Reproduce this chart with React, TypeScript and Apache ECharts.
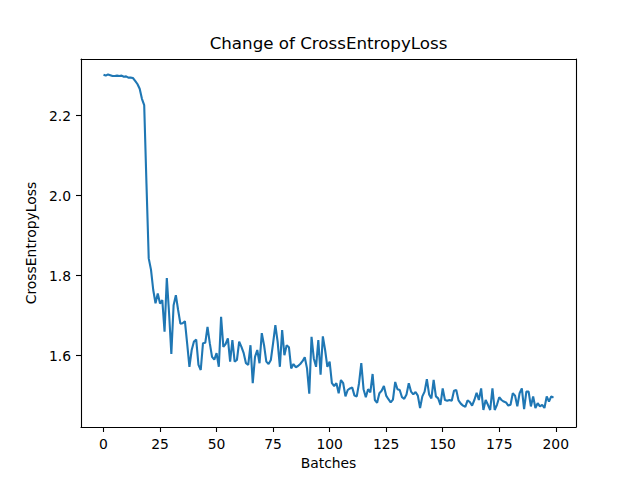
import React, { useEffect, useRef } from "react";
import * as echarts from "echarts";

const loss: number[] = [
  2.302, 2.300, 2.303, 2.301, 2.299, 2.299, 2.300, 2.299, 2.300, 2.297,
  2.298, 2.295, 2.295, 2.294, 2.287, 2.279, 2.267, 2.242, 2.226, 2.030,
  1.843, 1.815, 1.764, 1.731, 1.755, 1.730, 1.739, 1.660, 1.794, 1.706,
  1.604, 1.726, 1.751, 1.714, 1.680, 1.681, 1.686, 1.630, 1.572, 1.614,
  1.635, 1.640, 1.577, 1.564, 1.631, 1.632, 1.672, 1.631, 1.597, 1.590,
  1.606, 1.572, 1.697, 1.622, 1.629, 1.643, 1.585, 1.639, 1.585, 1.589,
  1.635, 1.622, 1.606, 1.581, 1.577, 1.626, 1.531, 1.597, 1.614, 1.581,
  1.656, 1.626, 1.585, 1.579, 1.589, 1.631, 1.676, 1.635, 1.572, 1.664,
  1.601, 1.626, 1.621, 1.568, 1.579, 1.571, 1.574, 1.579, 1.586, 1.596,
  1.568, 1.505, 1.647, 1.593, 1.572, 1.639, 1.552, 1.648, 1.614, 1.572,
  1.585, 1.531, 1.524, 1.531, 1.506, 1.539, 1.531, 1.498, 1.514, 1.518,
  1.520, 1.500, 1.498, 1.531, 1.581, 1.516, 1.496, 1.516, 1.508, 1.554,
  1.489, 1.482, 1.506, 1.512, 1.524, 1.500, 1.491, 1.483, 1.490, 1.534,
  1.516, 1.514, 1.496, 1.492, 1.503, 1.531, 1.510, 1.503, 1.509, 1.500,
  1.469, 1.498, 1.510, 1.541, 1.503, 1.493, 1.539, 1.498, 1.493, 1.477,
  1.518, 1.489, 1.487, 1.489, 1.487, 1.512, 1.514, 1.488, 1.480, 1.475,
  1.472, 1.488, 1.484, 1.475, 1.489, 1.507, 1.489, 1.518, 1.464, 1.489,
  1.477, 1.464, 1.518, 1.464, 1.477, 1.496, 1.489, 1.485, 1.483, 1.475,
  1.477, 1.506, 1.500, 1.473, 1.506, 1.518, 1.466, 1.510, 1.510, 1.473,
  1.498, 1.469, 1.481, 1.473, 1.477, 1.469, 1.498, 1.485, 1.498, 1.495,
];

const xTicks: number[] = [0, 25, 50, 75, 100, 125, 150, 175, 200];
const yTicks: number[] = [1.6, 1.8, 2.0, 2.2];

const FONT = "DejaVu Sans";

export default function App() {
  const ref = useRef<HTMLDivElement>(null);
  useEffect(() => {
    document.body.style.margin = "0";
    const chart = echarts.init(ref.current!, null, { renderer: "svg" });
    const data = loss.map((v, i) => [i, v]);
    const axisLine = { show: true, onZero: false, lineStyle: { color: "#000", width: 1.1 } };
    const hidden = {
      axisLine,
      axisTick: { show: false },
      axisLabel: { show: false },
      splitLine: { show: false },
    };
    chart.setOption({
      animation: false,
      backgroundColor: "#fff",
      grid: { left: 81, right: 64, top: 59, bottom: 53, containLabel: false },
      graphic: [
        {
          type: "text",
          x: 328.5,
          y: 43,
          style: {
            text: "Change of CrossEntropyLoss",
            font: `16.7px "${FONT}"`,
            fill: "#000",
            textAlign: "center",
            textVerticalAlign: "middle",
          },
        },
      ],
      xAxis: [
        {
          type: "value",
          min: -9.95,
          max: 208.95,
          position: "bottom",
          name: "Batches",
          nameLocation: "middle",
          nameGap: 27,
          nameTextStyle: { fontFamily: FONT, fontSize: 13.9, color: "#000" },
          axisLine,
          axisTick: {
            show: true,
            customValues: xTicks,
            length: 5,
            lineStyle: { color: "#000", width: 1.1 },
          },
          axisLabel: {
            customValues: xTicks,
            margin: 10,
            fontFamily: FONT,
            fontSize: 13.9,
            color: "#000",
          },
          splitLine: { show: false },
        },
        { type: "value", min: -9.95, max: 208.95, position: "top", ...hidden },
      ],
      yAxis: [
        {
          type: "value",
          min: 1.4215,
          max: 2.3415,
          position: "left",
          name: "CrossEntropyLoss",
          nameLocation: "middle",
          nameGap: 35,
          nameTextStyle: { fontFamily: FONT, fontSize: 13.9, color: "#000" },
          axisLine,
          axisTick: {
            show: true,
            customValues: yTicks,
            length: 5,
            lineStyle: { color: "#000", width: 1.1 },
          },
          axisLabel: {
            customValues: yTicks,
            margin: 10,
            fontFamily: FONT,
            fontSize: 13.9,
            color: "#000",
            formatter: (v: number) => v.toFixed(1),
          },
          splitLine: { show: false },
        },
        { type: "value", min: 1.4215, max: 2.3415, position: "right", ...hidden },
      ],
      series: [
        {
          type: "line",
          data,
          xAxisIndex: 0,
          yAxisIndex: 0,
          showSymbol: false,
          symbol: "none",
          lineStyle: { color: "#1f77b4", width: 2.1 },
          itemStyle: { color: "#1f77b4" },
        },
      ],
    });
    return () => chart.dispose();
  }, []);
  return (
    <div
      ref={ref}
      style={{ position: "fixed", left: 0, top: 0, width: 640, height: 480 }}
    />
  );
}
